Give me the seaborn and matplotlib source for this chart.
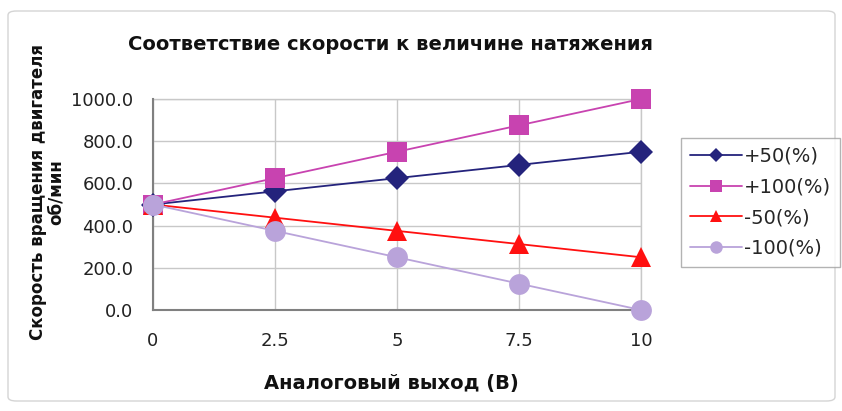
import matplotlib
matplotlib.use("Agg")
import matplotlib.pyplot as plt
from matplotlib.patches import FancyBboxPatch
import seaborn as sns
import pandas as pd

# Voltage steps on the analog output (V)
voltage = [0, 2.5, 5, 7.5, 10]
tick_labels = ["0", "2.5", "5", "7.5", "10"]

# Motor speed (rpm) for each tension setting
plus_50 = [500.0, 562.5, 625.0, 687.5, 750.0]
plus_100 = [500.0, 625.0, 750.0, 875.0, 1000.0]
minus_50 = [500.0, 437.5, 375.0, 312.5, 250.0]
minus_100 = [500.0, 375.0, 250.0, 125.0, 0.0]

series_names = ["+50(%)", "+100(%)", "-50(%)", "-100(%)"]
series_values = [plus_50, plus_100, minus_50, minus_100]

colors = {"+50(%)": "#24237C", "+100(%)": "#C843B0",
          "-50(%)": "#FF1010", "-100(%)": "#B9A3DA"}
markers = {"+50(%)": "D", "+100(%)": "s", "-50(%)": "^", "-100(%)": "o"}
msizes = {"+50(%)": 12.5, "+100(%)": 14, "-50(%)": 15, "-100(%)": 15}

rows = []
for name, vals in zip(series_names, series_values):
    for v, s in zip(voltage, vals):
        rows.append({"x": v, "speed": s, "series": name})
df = pd.DataFrame(rows)

sns.set_theme(style="white")
plt.rcParams["font.family"] = ["DejaVu Sans"]

fig = plt.figure(figsize=(8.42, 4.11), dpi=100)
fig.patch.set_facecolor("white")
W, H = 842, 411

# light outer frame around the chart
frame = FancyBboxPatch((8 / W, 10 / H), 827 / W, 390 / H,
                       boxstyle="round,pad=0,rounding_size=0.01",
                       transform=fig.transFigure, facecolor="none",
                       edgecolor="#D4D4D4", linewidth=1.0, zorder=-10)
fig.patches.append(frame)

ax = fig.add_axes([153 / W, 1 - 310 / H, (641 - 153) / W, (310 - 99) / H])
ax.set_facecolor("white")
ax.set_zorder(2)

for name in series_names:
    sub = df[df["series"] == name]
    sns.lineplot(data=sub, x="x", y="speed", ax=ax, color=colors[name],
                 marker=markers[name], markersize=msizes[name],
                 markeredgewidth=0, linewidth=1.3, label=name,
                 clip_on=False, zorder=3)

ax.set_xlim(0, 10)
ax.set_ylim(0, 1000)
ax.set_xticks(voltage)
ax.set_xticklabels(tick_labels)
ax.set_yticks([0, 200, 400, 600, 800, 1000])
ax.set_yticklabels([f"{v:.1f}" for v in [0, 200, 400, 600, 800, 1000]])
ax.tick_params(axis="both", length=0, labelsize=13, colors="#222222")
ax.tick_params(axis="x", pad=16)
ax.tick_params(axis="y", pad=14)

ax.grid(True, color="#C8C8C8", linewidth=1.0)
ax.set_axisbelow(True)
for side in ["left", "bottom"]:
    ax.spines[side].set_color("#808080")
    ax.spines[side].set_linewidth(1.5)
for side in ["top", "right"]:
    ax.spines[side].set_color("#C8C8C8")
    ax.spines[side].set_linewidth(1.0)
    ax.spines[side].set_zorder(1)

ax.set_xlabel("")
ax.set_ylabel("")

fig.text(390 / W, 1 - 44 / H, "Соответствие скорости к величине натяжения",
         ha="center", va="center", fontsize=14, fontweight="bold",
         color="#111111")
fig.text(391 / W, 1 - 383 / H, "Аналоговый выход (В)",
         ha="center", va="center", fontsize=14, fontweight="bold",
         color="#111111")
fig.text(47 / W, 1 - 192 / H, "Скорость вращения двигателя\nоб/мин",
         ha="center", va="center", rotation=90, fontsize=12,
         fontweight="bold", color="#111111", linespacing=1.0,
         multialignment="center")

handles, labels = ax.get_legend_handles_labels()
leg = ax.legend(handles, labels, loc="upper left",
                bbox_to_anchor=(681 / W, 1 - 138 / H),
                bbox_transform=fig.transFigure, frameon=True,
                fancybox=False, edgecolor="#A0A0A0", fontsize=14,
                handlelength=2.7, handletextpad=0.1, labelspacing=0.6,
                borderpad=0.45, borderaxespad=0, markerscale=0.6)
leg.get_frame().set_linewidth(1.0)

fig.savefig("out.png", dpi=100, facecolor="white")
